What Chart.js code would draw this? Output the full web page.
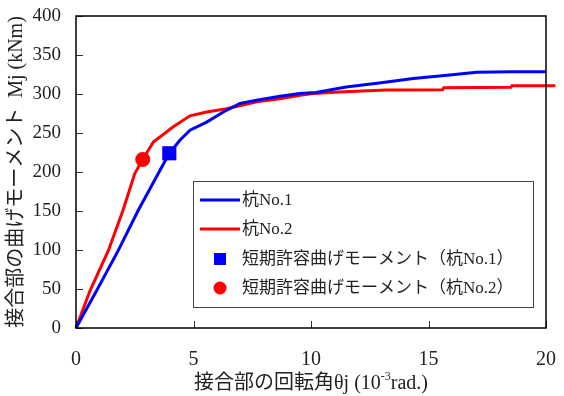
<!DOCTYPE html>
<html>
<head>
<meta charset="utf-8">
<script src="https://cdn.jsdelivr.net/npm/chart.js@4.4.0/dist/chart.umd.min.js"></script>
<style>
  body { margin: 0; background: #fff; }
  #wrap { width: 564px; height: 396px; }
</style>
</head>
<body>
<div id="wrap"><canvas id="myChart" width="564" height="396"></canvas></div>
<script>
//rotation angle (10^-3 rad) and moment (kNm)
const pile1X = [0, 0.88, 1.8, 2.65, 3.5, 3.97, 4.43, 4.85, 5.56, 6.27, 6.98, 7.69, 8.68, 9.53, 10.2, 11.5, 12.9, 14.35, 15.8, 17.05, 18.5, 20.0, 20.2, 20.4];
const pile1Y = [0, 48, 99.5, 151, 198, 224, 241, 253.5, 264, 277, 288, 292, 297, 300.6, 302, 309, 314, 320, 324, 328, 328.5, 328.5, 330, 331];

const pile2X = [0, 0.6, 1.38, 2.0, 2.5, 2.84, 3.29, 4.14, 4.85, 5.56, 6.41, 7.69, 8.68, 9.53, 10.1, 11.2, 13.2, 15.6, 15.65, 18.5, 18.55, 20.4];
const pile2Y = [0, 48, 99.5, 151, 198, 216, 238.5, 258, 272, 277, 281, 290, 294, 298.5, 300.6, 302.7, 305, 305.5, 308, 308.5, 310.5, 310.5];

//short-term allowable bending moment points (No.1, No.2)
const allowX = [3.97, 2.84];
const allowY = [224, 216];

const seriesNames = ['杭No.1', '杭No.2', '短期許容曲げモーメント（杭No.1）', '短期許容曲げモーメント（杭No.2）'];
const seriesColors = ['#0000ff', '#ff0000', '#0000ff', '#ff0000'];

const xTitle = ['接合部の回転角θj (10', '-3', 'rad.)'];
const yTitle = '接合部の曲げモーメント  Mj (kNm)';

const serif = "'Liberation Serif', 'Noto Sans CJK JP', serif";

function toPoints(xs, ys) {
    return xs.map((x, i) => ({ x: x, y: ys[i] }));
}

//frame, inward ticks, axis titles and legend box
const decorations = {
    id: 'decorations',
    afterDraw(chart) {
        const ctx = chart.ctx;
        const a = chart.chartArea;
        const xs = chart.scales.x;
        const ys = chart.scales.y;
        ctx.save();

        //inward tick marks
        ctx.strokeStyle = '#333';
        ctx.lineWidth = 1;
        ys.ticks.forEach(t => {
            let py = Math.round(ys.getPixelForValue(t.value)) + 0.5;
            ctx.beginPath(); ctx.moveTo(a.left, py); ctx.lineTo(a.left + 7, py); ctx.stroke();
        });
        xs.ticks.forEach(t => {
            let px = Math.round(xs.getPixelForValue(t.value)) + 0.5;
            ctx.beginPath(); ctx.moveTo(px, a.bottom); ctx.lineTo(px, a.bottom - 7); ctx.stroke();
        });

        //plot frame
        ctx.strokeStyle = '#000';
        ctx.lineWidth = 1.5;
        ctx.strokeRect(a.left, a.top, a.right - a.left, a.bottom - a.top);

        //y title
        ctx.fillStyle = '#222';
        ctx.font = '20px ' + serif;
        ctx.textAlign = 'center';
        ctx.textBaseline = 'middle';
        ctx.save();
        ctx.translate(17, (a.top + a.bottom) / 2);
        ctx.rotate(-Math.PI / 2);
        ctx.fillText(yTitle, 0, 0);
        ctx.restore();

        //x title with superscript
        ctx.textAlign = 'left';
        ctx.textBaseline = 'alphabetic';
        ctx.font = '20px ' + serif;
        let w1 = ctx.measureText(xTitle[0]).width;
        let w3 = ctx.measureText(xTitle[2]).width;
        ctx.font = '12px ' + serif;
        let w2 = ctx.measureText(xTitle[1]).width;
        let startX = (a.left + a.right) / 2 - (w1 + w2 + w3) / 2;
        let baseY = 389;
        ctx.font = '20px ' + serif;
        ctx.fillText(xTitle[0], startX, baseY);
        ctx.font = '12px ' + serif;
        ctx.fillText(xTitle[1], startX + w1, baseY - 9);
        ctx.font = '20px ' + serif;
        ctx.fillText(xTitle[2], startX + w1 + w2, baseY);

        //legend
        ctx.fillStyle = '#fff';
        ctx.fillRect(193, 181, 340, 126);
        ctx.strokeStyle = '#444';
        ctx.lineWidth = 1;
        ctx.strokeRect(193.5, 181.5, 340, 126);
        let rows = [200, 229, 259, 288];
        ctx.font = '17px ' + serif;
        ctx.textBaseline = 'middle';
        seriesNames.forEach((name, i) => {
            let y = rows[i];
            ctx.fillStyle = seriesColors[i];
            ctx.strokeStyle = seriesColors[i];
            if (i < 2) {
                ctx.lineWidth = 3;
                ctx.beginPath(); ctx.moveTo(200, y); ctx.lineTo(240, y); ctx.stroke();
            } else if (i === 2) {
                ctx.fillRect(214, y - 6, 12, 12);
            } else {
                ctx.beginPath(); ctx.arc(220, y, 6.5, 0, Math.PI * 2); ctx.fill();
            }
            ctx.fillStyle = '#222';
            ctx.fillText(name, 242, y + 1);
        });

        ctx.restore();
    }
};

let ctx = document.getElementById('myChart').getContext('2d');

let myChart = new Chart(ctx, {
    type: 'line',
    data: {
        datasets: [
            {
                label: seriesNames[0],
                data: toPoints(pile1X, pile1Y),
                borderColor: seriesColors[0],
                borderWidth: 3,
                pointRadius: 0,
                tension: 0,
                clip: false
            },
            {
                label: seriesNames[1],
                data: toPoints(pile2X, pile2Y),
                borderColor: seriesColors[1],
                borderWidth: 3,
                pointRadius: 0,
                tension: 0,
                clip: false
            },
            {
                type: 'scatter',
                label: seriesNames[2],
                data: [{ x: allowX[0], y: allowY[0] }],
                backgroundColor: seriesColors[2],
                borderColor: seriesColors[2],
                pointStyle: 'rect',
                pointRadius: 10,
                borderWidth: 0
            },
            {
                type: 'scatter',
                label: seriesNames[3],
                data: [{ x: allowX[1], y: allowY[1] }],
                backgroundColor: seriesColors[3],
                borderColor: seriesColors[3],
                pointStyle: 'circle',
                pointRadius: 7.5,
                borderWidth: 0
            }
        ]
    },
    options: {
        responsive: false,
        animation: false,
        layout: { padding: { top: 16, right: 18, left: 0, bottom: 0 } },
        plugins: {
            legend: { display: false },
            tooltip: { enabled: false }
        },
        scales: {
            x: {
                type: 'linear',
                min: 0,
                max: 20,
                afterFit: (scale) => {
                    scale.height = 68;
                    scale.paddingLeft = 0;
                    scale.paddingRight = 0;
                },
                grid: { display: false, drawTicks: false },
                border: { display: false },
                ticks: {
                    stepSize: 5,
                    padding: 20,
                    color: '#222',
                    font: { family: serif, size: 20 }
                }
            },
            y: {
                min: 0,
                max: 400,
                afterFit: (scale) => {
                    scale.width = 76;
                    scale.paddingTop = 0;
                    scale.paddingBottom = 0;
                },
                grid: { display: false, drawTicks: false },
                border: { display: false },
                ticks: {
                    stepSize: 50,
                    padding: 15,
                    color: '#222',
                    font: { family: serif, size: 19 }
                }
            }
        }
    },
    plugins: [decorations]
});
</script>
</body>
</html>
